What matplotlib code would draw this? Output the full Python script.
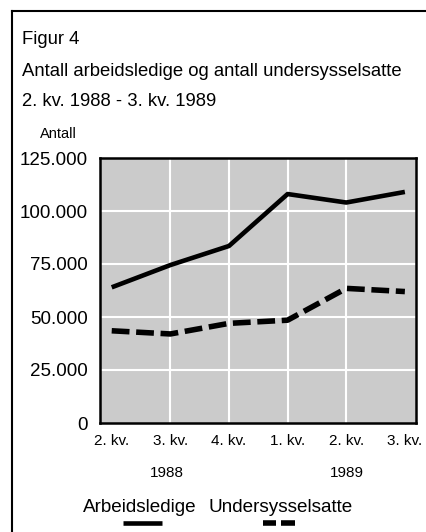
import matplotlib
matplotlib.use("Agg")
import matplotlib.pyplot as plt
from matplotlib.lines import Line2D

# data
quarters = ["2. kv.", "3. kv.", "4. kv.", "1. kv.", "2. kv.", "3. kv."]
years = ["1988", "1989"]
arbeidsledige = [64000, 74500, 83500, 108000, 104000, 109000]
undersysselsatte = [43500, 42000, 47000, 48500, 63500, 62000]
yticks = [0, 25000, 50000, 75000, 100000, 125000]
ylabels = ["0", "25.000", "50.000", "75.000", "100.000", "125.000"]

W, H = 426, 532
plt.rcParams['font.family'] = ['Liberation Sans', 'DejaVu Sans']

fig = plt.figure(figsize=(W / 100, H / 100), dpi=100)
fig.patch.set_facecolor("white")

def fx(px):
    return px / W

def fy(py):
    return 1 - py / H

# outer frame (top and left only)
fig.add_artist(Line2D([fx(12), 1.0], [fy(11), fy(11)], color="black", lw=1.5))
fig.add_artist(Line2D([fx(12), fx(12)], [fy(11), 0.0], color="black", lw=1.5))

fig.text(fx(22), fy(40), "Figur 4", fontsize=13.3, va="center", ha="left")
fig.text(fx(22), fy(71), "Antall arbeidsledige og antall undersysselsatte", fontsize=13.3, va="center", ha="left")
fig.text(fx(22), fy(102), "2. kv. 1988 - 3. kv. 1989", fontsize=13.3, va="center", ha="left")
fig.text(fx(40), fy(134), "Antall", fontsize=10.5, va="center", ha="left")

ax = fig.add_axes([fx(100), fy(423), fx(416) - fx(100), fy(158) - fy(423)])
ax.set_facecolor("#cbcbcb")
x = list(range(len(quarters)))
ax.set_xlim(-0.2, 5.19)
ax.set_ylim(0, 125000)

for i in x[1:-1]:
    ax.axvline(i, color="white", lw=1.5, zorder=1)
for v in yticks[1:-1]:
    ax.axhline(v, color="white", lw=1.5, zorder=1)

ax.plot(x, arbeidsledige, color="black", lw=3.3, solid_capstyle="butt", zorder=3)
ax.plot(x, undersysselsatte, color="black", lw=4, linestyle=(0, (3.2, 1.2)), zorder=3)

ax.set_yticks(yticks)
ax.set_yticklabels(ylabels, fontsize=13.5)
ax.set_xticks(x)
ax.set_xticklabels(quarters, fontsize=11)
ax.tick_params(length=0)
ax.tick_params(axis="y", pad=9)
ax.tick_params(axis="x", pad=8)
for s in ax.spines.values():
    s.set_linewidth(1.8)

fig.text(fx(167), fy(473), years[0], fontsize=11, ha="center", va="center")
fig.text(fx(347), fy(473), years[1], fontsize=11, ha="center", va="center")

fig.text(fx(83), fy(508), "Arbeidsledige", fontsize=13.6, ha="left", va="center")
fig.text(fx(208), fy(508), "Undersysselsatte", fontsize=13.6, ha="left", va="center")
fig.add_artist(Line2D([fx(123), fx(162)], [fy(523), fy(523)], color="black", lw=3.3,
                      solid_capstyle="butt"))
fig.add_artist(Line2D([fx(263), fx(276)], [fy(523), fy(523)], color="black", lw=4,
                      solid_capstyle="butt"))
fig.add_artist(Line2D([fx(281), fx(295)], [fy(523), fy(523)], color="black", lw=4,
                      solid_capstyle="butt"))

fig.savefig("out.png", dpi=100)
